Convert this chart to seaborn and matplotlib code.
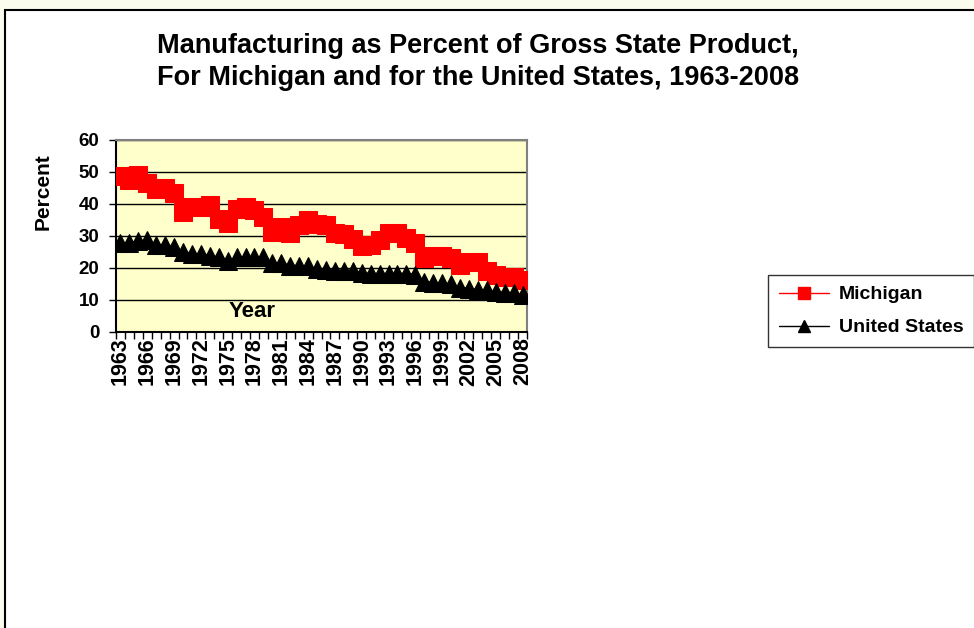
import numpy as np
import pandas as pd
import matplotlib
matplotlib.use("Agg")
import matplotlib.pyplot as plt
from matplotlib.patches import Rectangle
from matplotlib.lines import Line2D
import seaborn as sns

years = list(range(1963, 2009))
michigan = [48.6, 47.5, 49.2, 46.7, 44.7, 44.9, 43.3, 37.6, 39.1, 39.1,
            39.7, 35.3, 34.0, 38.5, 39.2, 38.0, 35.8, 31.1, 32.7, 31.0,
            33.5, 35.0, 33.8, 33.5, 30.9, 30.6, 29.2, 26.8, 27.1, 28.7,
            31.0, 31.0, 29.3, 27.7, 23.2, 23.6, 23.7, 23.0, 21.0, 21.8,
            21.8, 19.0, 17.7, 17.2, 17.2, 16.2]
united_states = [27.8, 27.8, 28.4, 28.6, 27.1, 27.1, 26.6, 25.0, 24.4, 24.4,
                 23.8, 23.3, 22.1, 23.3, 23.3, 23.3, 23.3, 21.5, 21.5, 20.7,
                 20.7, 20.6, 19.6, 19.4, 19.2, 19.2, 19.2, 18.4, 18.2, 18.2,
                 18.2, 18.2, 18.2, 17.9, 15.7, 15.4, 15.2, 15.0, 13.9, 13.5,
                 13.2, 13.0, 12.5, 12.3, 12.2, 11.5]
y_ticks = [0, 10, 20, 30, 40, 50, 60]
x_tick_years = years[::3]

sns.set_style("white")
plt.rcParams['font.family'] = ['Liberation Sans', 'DejaVu Sans']
plt.rcParams['font.weight'] = 'bold'
plt.rcParams['text.color'] = 'black'
plt.rcParams['axes.labelcolor'] = 'black'
plt.rcParams['xtick.color'] = 'black'
plt.rcParams['ytick.color'] = 'black'

fig = plt.figure(figsize=(9.74, 6.28), dpi=100)
fig.patch.set_facecolor('#fcfcee')

# white chart area with black border (runs off the right and bottom)
fig.patches.append(Rectangle((5 / 974, -0.05), 1.1, 1 - 10 / 628 + 0.05,
                             transform=fig.transFigure, facecolor='white',
                             edgecolor='black', linewidth=1.5, zorder=-5))

ax = fig.add_axes([116 / 974, 1 - 332 / 628, 411 / 974, 192 / 628])
ax.set_facecolor('#ffffcc')

sns.lineplot(x=years, y=michigan, ax=ax, color='red', marker='s',
             markersize=12.5, markeredgecolor='red', linewidth=1.5, zorder=3)
sns.lineplot(x=years, y=united_states, ax=ax, color='black', marker='^',
             markersize=13, markeredgecolor='black', linewidth=1.5, zorder=4)

ax.set_xlim(1962.5, 2008.5)
ax.set_ylim(0, 60)
ax.set_yticks(y_ticks)
ax.set_xticks(x_tick_years)
ax.set_xticks(np.arange(1962.5, 2009, 1), minor=True)
ax.set_xticklabels([str(y) for y in x_tick_years], rotation=90,
                   fontsize=15.5, fontweight='bold')
ax.set_yticklabels([str(v) for v in y_ticks], fontsize=13.5, fontweight='bold')
ax.tick_params(axis='x', which='major', length=0, pad=4)
ax.tick_params(axis='x', which='minor', length=5, width=1, color='black',
               direction='out', bottom=True)
ax.tick_params(axis='y', which='major', length=5, width=1, color='black',
               direction='out', left=True, pad=7)

ax.grid(axis='y', color='black', linewidth=1)
ax.set_axisbelow(True)
for side in ['top', 'right']:
    ax.spines[side].set_color('#808080')
    ax.spines[side].set_linewidth(1.5)
for side in ['left', 'bottom']:
    ax.spines[side].set_color('black')
    ax.spines[side].set_linewidth(1.5)

ax.set_xlabel('')
ax.set_ylabel('Percent', fontsize=15, fontweight='bold')
ax.yaxis.set_label_coords(-0.153, 0.729)
ax.text(0.331, 0.109, 'Year', transform=ax.transAxes, ha='center',
        va='center', fontsize=16, fontweight='bold')

fig.text(0.491, 1 - 62 / 628,
         'Manufacturing as Percent of Gross State Product,\n'
         'For Michigan and for the United States, 1963-2008',
         ha='center', va='center', fontsize=19.5, fontweight='bold',
         linespacing=1.3)

handles = [Line2D([], [], color='red', marker='s', markersize=8,
                  markeredgecolor='red', linewidth=1),
           Line2D([], [], color='black', marker='^', markersize=8,
                  markeredgecolor='black', linewidth=1)]
leg = fig.legend(handles, ['Michigan', 'United States'], loc='upper left',
                 bbox_to_anchor=(768 / 974, 1 - 275 / 628), frameon=True,
                 fancybox=False, edgecolor='black', fontsize=14,
                 handlelength=2.6, handletextpad=0.5, borderpad=0.55,
                 labelspacing=0.8, borderaxespad=0)
leg.get_frame().set_linewidth(1)
for t in leg.get_texts():
    t.set_fontweight('bold')

fig.savefig('out.png', dpi=100, facecolor=fig.get_facecolor())
